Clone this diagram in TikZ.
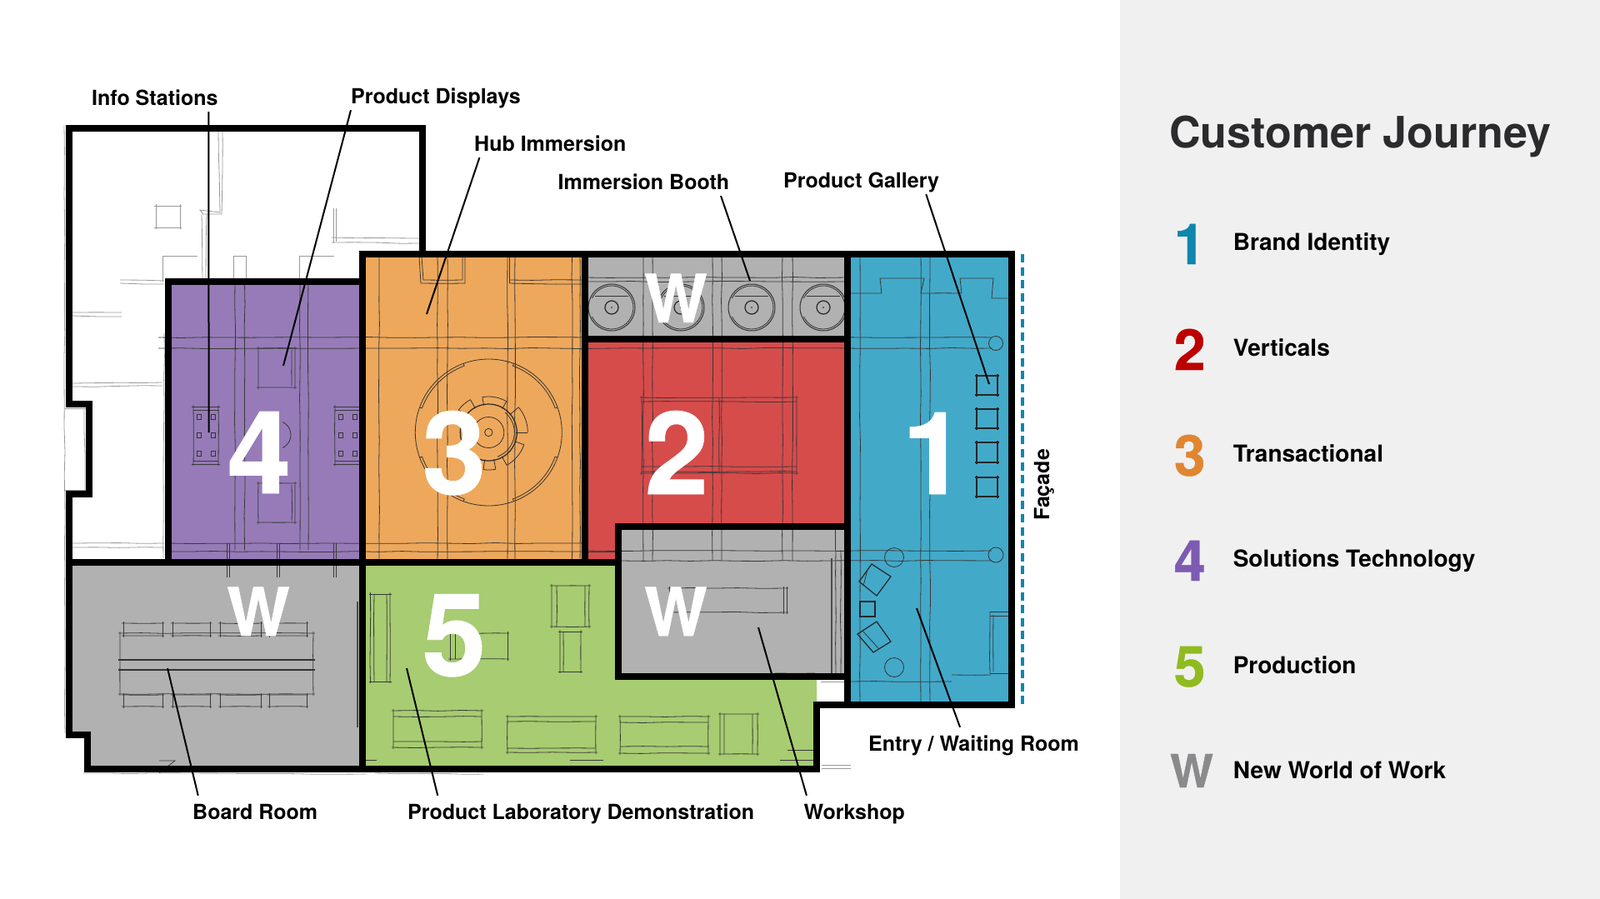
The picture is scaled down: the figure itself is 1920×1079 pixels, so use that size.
\documentclass[tikz,border=0pt]{standalone}
\usepackage{fontspec}
\setmainfont{TeX Gyre Heros}
\newfontfamily\markfont{TeX Gyre Heros Bold}[FakeBold=0.6]
\usetikzlibrary{calc}
\usetikzlibrary{decorations.pathmorphing}
\definecolor{zonepurple}{RGB}{150, 123, 184}
\definecolor{zoneorange}{RGB}{237, 168, 92}
\definecolor{zonered}{RGB}{214, 76, 75}
\definecolor{zonegray}{RGB}{177, 177, 177}
\definecolor{zoneblue}{RGB}{67, 169, 201}
\definecolor{zonegreen}{RGB}{167, 204, 113}
\definecolor{panelgray}{RGB}{240, 240, 240}
\definecolor{titleink}{RGB}{43, 43, 45}
\definecolor{keyblue}{RGB}{15, 134, 173}
\definecolor{keyred}{RGB}{188, 0, 0}
\definecolor{keyorange}{RGB}{224, 134, 50}
\definecolor{keypurple}{RGB}{125, 91, 178}
\definecolor{keygreen}{RGB}{143, 187, 31}
\definecolor{keygray}{RGB}{138, 138, 140}
\tikzset{
  wall/.style={line width=8pt, line join=miter},
  sketch/.style={line width=0.8pt, black!78, decorate, decoration={random steps, segment length=28pt, amplitude=0.5pt}},
  sketchfaint/.style={line width=0.8pt, black!40, decorate, decoration={random steps, segment length=28pt, amplitude=0.5pt}},
  sketchring/.style={line width=0.8pt, black!80},
  leader/.style={line width=2pt, black},
  callout/.style={anchor=base west, inner xsep=0pt, inner ysep=2pt, text height=26pt, text depth=6pt, font=\bfseries\fontsize{25}{30}\selectfont},
  bignum/.style={anchor=base, inner sep=0pt, white, font=\markfont\fontsize{138}{138}\selectfont},
  bigw/.style={anchor=base, inner sep=0pt, white, font=\markfont\fontsize{80}{80}\selectfont},
  keynum/.style={anchor=base, inner sep=0pt, font=\markfont\fontsize{68}{68}\selectfont},
  keytext/.style={anchor=base west, inner sep=0pt, font=\bfseries\fontsize{28}{28}\selectfont},
}
% hand drawn box: four lines running a little past the corners
\newcommand{\skbox}[5][sketch]{
  \draw[#1] (#2-2,#3) -- (#4+2,#3);
  \draw[#1] (#2-2,#5) -- (#4+2,#5);
  \draw[#1] (#2,#3-2) -- (#2,#5+2);
  \draw[#1] (#4,#3-2) -- (#4,#5+2);
}
\begin{document}
\begin{tikzpicture}[x=1pt, y=-1pt]
  \useasboundingbox (0,0) rectangle (1920,1079);
  % Side panel
  \fill[panelgray] (1344,0) rectangle (1920,1079);
  % Zones
  \fill[zonepurple] (202,338) rectangle (435,675);
  \fill[zoneorange] (435,305) rectangle (702,675);
  \fill[zonegray]   (702,305) rectangle (1017,407);
  \fill[zonered]    (702,407) -- (1017,407) -- (1017,632) -- (742,632) -- (742,675) -- (702,675) -- cycle;
  \fill[zonegray]   (742,632) rectangle (1017,812);
  \fill[zoneblue]   (1017,305) rectangle (1214,846);
  \fill[zonegray]   (83,675) -- (435,675) -- (435,923) -- (105,923) -- (105,882) -- (83,882) -- cycle;
  \fill[zonegreen]  (435,675) -- (742,675) -- (742,812) -- (980,812) -- (980,923) -- (435,923) -- cycle;
  % White rooms, faint pencil
  \skbox[sketchfaint]{187}{247}{216}{273}
  \draw[sketchfaint] (262,158) -- (264,255) -- (240,252) -- (244,257) -- (266,257) -- (267,158);
  \draw[sketchfaint] (242,257) -- (243,338);
  \draw[sketchfaint] (248,257) -- (247,338);
  \draw[sketchfaint] (400,250) -- (400,292);
  \draw[sketchfaint] (403,250) -- (403,290);
  \draw[sketchfaint] (398,285) -- (503,286);
  \draw[sketchfaint] (398,291) -- (503,292);
  \draw[sketchfaint] (195,307) -- (195,338);
  \draw[sketchfaint] (195,307) -- (206,307) -- (206,338);
  \draw[sketchfaint] (280,307) -- (280,338);
  \draw[sketchfaint] (280,307) -- (295,307) -- (295,338);
  \draw[sketchfaint] (359,307) -- (359,338);
  \draw[sketchfaint] (359,307) -- (370,307) -- (370,338);
  \draw[sketchfaint] (144,336) -- (197,337);
  \draw[sketchfaint] (144,340) -- (197,341);
  \draw[sketchfaint] (87,375) -- (146,375);
  \draw[sketchfaint] (87,379) -- (146,380);
  \draw[sketchfaint] (87,460) -- (195,459);
  \draw[sketchfaint] (87,464) -- (195,463);
  \draw[sketchfaint] (87,652) -- (197,652);
  \draw[sketchfaint] (87,657) -- (197,657);
  \draw[sketchfaint] (197,400) -- (196,670);
  \draw[sketchfaint] (77,150) -- (78,880);
  \draw[sketchfaint] (78,490) -- (103,490);
  \draw[sketchfaint] (78,588) -- (103,588);
  \draw[sketchfaint] (101,490) -- (102,588);
  \draw[sketchfaint] (100,928) -- (440,929);
  \draw[sketchfaint] (450,928) -- (580,929);
  \draw[sketchfaint] (986,918) -- (1021,918);
  \draw[sketchfaint] (986,922) -- (1021,922);
  \draw[sketchfaint] (985,818) -- (1013,818);
  % Columns, beams
  \foreach \colx/\coltop/\colbot in {282/338/660, 293.5/338/660, 360/338/660, 370/338/660,
      455/305/675, 525/305/675, 537/305/675, 609/305/675, 618/305/675, 686.5/305/675, 696/305/675,
      772/305/673, 783/305/673, 855/305/673, 866/305/673, 939/305/673, 951/305/673,
      1032/305/846, 1105/305/846, 1116/305/846}{
    \draw[sketch] (\colx,\coltop) -- (\colx,\colbot);
  }
  \foreach \beamy/\beamfrom/\beamto in {405/190/1190, 418/190/1190, 652/202/702, 662/202/702,
      333/702/1017, 338/702/1017, 336/611/702, 661/702/1190, 673/745/1190}{
    \draw[sketch] (\beamfrom,\beamy) -- (\beamto,\beamy);
  }
  \foreach \stubx in {274, 333.5, 401.6}{
    \draw[sketch] (\stubx-1.5,652) -- (\stubx-1.5,693);
    \draw[sketch] (\stubx+1.5,652) -- (\stubx+1.5,693);
  }
  % Zone 4 furniture
  \skbox{310}{418}{354}{465}
  \draw[sketch] (350,420) -- (350,463);
  \skbox{310}{580}{354}{627}
  \draw[sketch] (350,582) -- (350,625);
  \foreach \sx in {232, 402}{
    \skbox{\sx}{488}{\sx+30}{557}
    \draw[sketch] (\sx,492) -- (\sx+30,492);
    \draw[sketch] (\sx,553) -- (\sx+30,553);
    \foreach \sy in {500, 522, 544}{
      \draw[sketchring] (\sx+4,\sy-3) rectangle (\sx+9,\sy+3);
      \draw[sketchring] (\sx+21,\sy-3) rectangle (\sx+26,\sy+3);
    }
  }
  \draw[sketchring] (332,522) ++(-65:17) arc[start angle=-65, end angle=65, radius=17];
  % Zone 3 hub
  \draw[sketch] (503,308) -- (505,340) -- (558,340) -- (558,308);
  \draw[sketch] (506,308) -- (508,336) -- (555,336) -- (555,308);
  \draw[sketch] (611,308) -- (611,340);
  \draw[sketch] (611,340) -- (702,341);
  \coordinate (hubcentre) at (586.3,519);
  \draw[sketchring] (hubcentre) circle[radius=88];
  \foreach \ringa in {20, 110, 200, 290}{
    \draw[sketchring] (hubcentre) ++(\ringa:85) arc[start angle=\ringa, end angle=\ringa+50, radius=85];
    \draw[sketchring] (hubcentre) ++(\ringa:85) -- ++(\ringa:3);
    \draw[sketchring] (hubcentre) ++(\ringa+50:85) -- ++(\ringa+50:3);
  }
  \foreach \sega/\segb/\segr in {-100/-60/43, -40/0/47, 19/61/45, 79/98/45, -143/-119/45}{
    \draw[sketchring] (hubcentre) ++(\sega:\segr) arc[start angle=\sega, end angle=\segb, radius=\segr];
    \draw[sketchring] (hubcentre) ++(\sega:\segr) -- ++(\sega:-\segr+33);
    \draw[sketchring] (hubcentre) ++(\segb:\segr) -- ++(\segb:-\segr+33);
  }
  \draw[line width=1.2pt, black!85] (hubcentre) circle[radius=34];
  \draw[sketchring] (hubcentre) ++(-50:31) arc[start angle=-50, end angle=70, radius=31];
  \draw[sketchring] (hubcentre) circle[radius=18.5];
  \draw[sketchring] (hubcentre) circle[radius=4.7];
  % Immersion booths
  \foreach \boothx in {734, 817, 902, 988}{
    \draw[line width=1pt, black!80] (\boothx,369) circle[radius=28];
    \draw[sketchring] (\boothx,369) ++(-155:26) arc[start angle=-155, end angle=155, radius=26];
    \draw[line width=1.2pt, black!85] (\boothx,369) circle[radius=8];
    \fill[black!70] (\boothx,369) circle[radius=1.2];
    \draw[sketchring] (\boothx-20,355) -- (\boothx+20,355);
  }
  % Zone 2 table
  \skbox{770}{477}{956}{568}
  \draw[sketch] (770,482) -- (956,482);
  \draw[sketch] (770,560) -- (956,560);
  \draw[sketch] (770,566) -- (956,566);
  \draw[sketch] (863,477) -- (863,568);
  \draw[sketch] (705,662) -- (738,662);
  % Zone 1 gallery, seating
  \draw[sketch] (1021,352) -- (1058,352) -- (1056,334) -- (1109,334) -- (1105,352) -- (1154,352) -- (1152,334) -- (1192,334) -- (1190,358) -- (1209,358);
  \foreach \galy/\galz in {451/474, 491/514, 531/555, 573/596}{
    \skbox[line width=1.2pt, black!85]{1172}{\galy}{1197}{\galz}
  }
  \draw[sketchring] (1195,412) circle[radius=8.5];
  \draw[sketchring] (1195,666) circle[radius=9];
  \draw[sketchring] (1073,669) circle[radius=11.5];
  \draw[sketchring] (1073,801) circle[radius=11.5];
  \draw[line width=1.2pt, black!85] (1046,677) -- (1069,692) -- (1052,715) -- (1031,698) -- cycle;
  \draw[sketchring] (1041,684) -- (1036,703);
  \draw[line width=1.2pt, black!85] (1032,722) rectangle (1050,740);
  \draw[line width=1.2pt, black!85] (1052,746) -- (1069,770) -- (1048,783) -- (1029,761) -- cycle;
  \draw[sketchring] (1035,757) -- (1054,778);
  \draw[sketch] (1188,734) -- (1188,808);
  \draw[sketch] (1192,738) -- (1192,806);
  \draw[sketch] (1188,734) -- (1214,734);
  \draw[sketch] (1188,739) -- (1214,739);
  \draw[sketch] (1188,808) -- (1214,808);
  \draw[sketch] (1021,818) -- (1142,818);
  \draw[sketch] (1142,810) -- (1189,810);
  % Workshop
  \skbox{803}{706}{944}{735}
  \draw[sketch] (940,704) -- (940,737);
  \draw[line width=1.6pt, black!70] (998,670) -- (998,808);
  \draw[sketch] (1003,660) -- (1003,808);
  \draw[sketch] (1009,660) -- (1009,808);
  \draw[sketch] (1002,636) -- (1002,660);
  \draw[sketch] (930,808) -- (978,808);
  % Board room
  \skbox{144}{760}{376}{833}
  \draw[line width=1.4pt, black!80] (142,792) -- (378,792);
  \draw[line width=1.4pt, black!80] (142,804) -- (378,804);
  \foreach \chairl/\chairr in {148/195, 207/252, 264/313, 323/368}{
    \skbox{\chairl}{748}{\chairr}{763}
    \skbox{\chairl}{834}{\chairr}{848}
  }
  \draw[sketch] (191,913) -- (210,913) -- (201,920) -- cycle;
  \draw[line width=1.6pt, black!70] (429,722) -- (429,873);
  % Zone 5 furniture
  \skbox{444.5}{713}{468}{818}
  \draw[sketch] (449,713) -- (449,818);
  \draw[sketch] (464,713) -- (464,818);
  \skbox{472}{853}{578}{897}
  \draw[sketch] (472,860) -- (578,860);
  \draw[sketch] (472,890) -- (578,890);
  \skbox{609}{860}{715}{903}
  \draw[sketch] (609,866) -- (715,866);
  \draw[sketch] (609,898) -- (715,898);
  \skbox{744}{860}{850}{904}
  \draw[sketch] (744,867) -- (850,867);
  \draw[sketch] (744,896) -- (850,896);
  \skbox{864}{857}{909}{905}
  \draw[sketch] (869,857) -- (869,905);
  \draw[sketch] (903,857) -- (903,905);
  \skbox{540}{760}{609}{791}
  \draw[sketch] (546,760) -- (546,791);
  \skbox{662}{703}{707}{752}
  \draw[sketch] (668,703) -- (668,752);
  \draw[sketch] (702,703) -- (702,752);
  \skbox{672}{758}{697}{806}
  \draw[sketch] (676,758) -- (676,806);
  \foreach \trix in {684, 936}{
    \draw[sketch] (\trix,912) -- (\trix+17,912) -- (\trix+8,920) -- cycle;
  }
  \draw[sketch] (452,912) -- (438,912);
  \draw[sketch] (945,900) -- (978,900);
  % Walls
  \draw[wall] (83,154) -- (507,154) -- (507,305) -- (1214,305) -- (1214,846) -- (980,846) -- (980,923) -- (105,923) -- (105,882) -- (83,882) -- (83,593) -- (107,593) -- (107,485) -- (83,485) -- cycle;
  \draw[wall] (202,675) -- (202,338) -- (435,338);
  \draw[wall] (83,675) -- (742,675);
  \draw[wall] (435,923) -- (435,305) -- (507,305);
  \draw[wall] (702,305) -- (702,675);
  \draw[wall] (702,407) -- (1017,407);
  \draw[wall] (1017,305) -- (1017,846);
  \draw[wall] (1017,632) -- (742,632) -- (742,812) -- (1017,812);
  % Facade line
  \draw[keyblue, line width=4pt, dash pattern=on 10pt off 5.6pt] (1226.5,305) -- (1226.5,846);
  % Zone marks
  \node[bignum] (markone)   at (1121,593) {1};
  \node[bignum] (marktwo)   at (812,593)  {2};
  \node[bignum] (markthree) at (545,593)  {3};
  \node[bignum] (markfour)  at (311,592)  {4};
  \node[bignum] (markfive)  at (545,811)  {5};
  \node[bigw]   (markwa)    at (811,387)  {W};
  \node[bigw]   (markwb)    at (310,763)  {W};
  \node[bigw]   (markwc)    at (811,763)  {W};
  % Callouts
  \node[callout] (lblinfo)     at (110,126)  {Info Stations};
  \node[callout] (lbldisplays) at (421,124)  {Product Displays};
  \node[callout] (lblhub)      at (569,181)  {Hub Immersion};
  \node[callout] (lblbooth)    at (669.5,227)  {Immersion Booth};
  \node[callout] (lblgallery)  at (940,225)  {Product Gallery};
  \node[callout] (lblboard)    at (231,983)  {Board Room};
  \node[callout] (lbllab)      at (489,983)  {Product Laboratory Demonstration};
  \node[callout] (lblworkshop) at (964.5,983)  {Workshop};
  \node[callout] (lblentry)    at (1042,901) {Entry / Waiting Room};
  \node[anchor=base west, rotate=90, inner sep=0pt, font=\bfseries\fontsize{25}{30}\selectfont] (lblfacade) at (1259,625) {Façade};
  % Leader ends
  \coordinate (tipinfo)     at (250.6,519);
  \coordinate (tipdisplays) at (340,439);
  \coordinate (tiphub)      at (512,377);
  \coordinate (tipbooth)    at (900,337);
  \coordinate (tipgallery)  at (1187,461);
  \coordinate (tipboard)    at (201,802);
  \coordinate (tiplab)      at (488,802);
  \coordinate (tipworkshop) at (910,753);
  \coordinate (tipentry)    at (1100,730);
  \draw[leader] ($(lblinfo.south west)!0.925!(lblinfo.south east)$)         -- (tipinfo);
  \draw[leader] (lbldisplays.south west)                                    -- (tipdisplays);
  \draw[leader] ($(lblhub.south west)!0.035!(lblhub.south east)$)           -- (tiphub);
  \draw[leader] ($(lblbooth.south west)!0.95!(lblbooth.south east)$)        -- (tipbooth);
  \draw[leader] ($(lblgallery.south west)!0.915!(lblgallery.south east)$)   -- (tipgallery);
  \draw[leader] ($(lblboard.north west)!0.045!(lblboard.north east)$)       -- (tipboard);
  \draw[leader] ($(lbllab.north west)!0.087!(lbllab.north east)$)           -- (tiplab);
  \draw[leader] ($(lblworkshop.north west)!0.028!(lblworkshop.north east)$) -- (tipworkshop);
  \draw[leader] ($(lblentry.north west)!0.435!(lblentry.north east)$)       -- (tipentry);
  % Key
  \node[anchor=base west, inner sep=0pt, titleink, font=\bfseries\fontsize{52}{52}\selectfont] (keytitle) at (1403,177) {Customer Journey};
  \node[keynum, keyblue]   (keyone)   at (1427.7,317) {1};
  \node[keynum, keyred]    (keytwo)   at (1427.7,444) {2};
  \node[keynum, keyorange] (keythree) at (1427.7,571) {3};
  \node[keynum, keypurple] (keyfour)  at (1427.7,697) {4};
  \node[keynum, keygreen]  (keyfive)  at (1427.7,824) {5};
  \node[anchor=base, inner sep=0pt, keygray, font=\markfont\fontsize{55}{55}\selectfont] (keyw) at (1430,945) {W};
  \node[keytext] (textone)   at (1479.6,300) {Brand Identity};
  \node[keytext] (texttwo)   at (1479.6,427.5) {Verticals};
  \node[keytext] (textthree) at (1479.6,554) {Transactional};
  \node[keytext] (textfour)  at (1479.6,680.5) {Solutions Technology};
  \node[keytext] (textfive)  at (1479.6,808) {Production};
  \node[keytext] (textw)     at (1479.6,934) {New World of Work};
\end{tikzpicture}
\end{document}
